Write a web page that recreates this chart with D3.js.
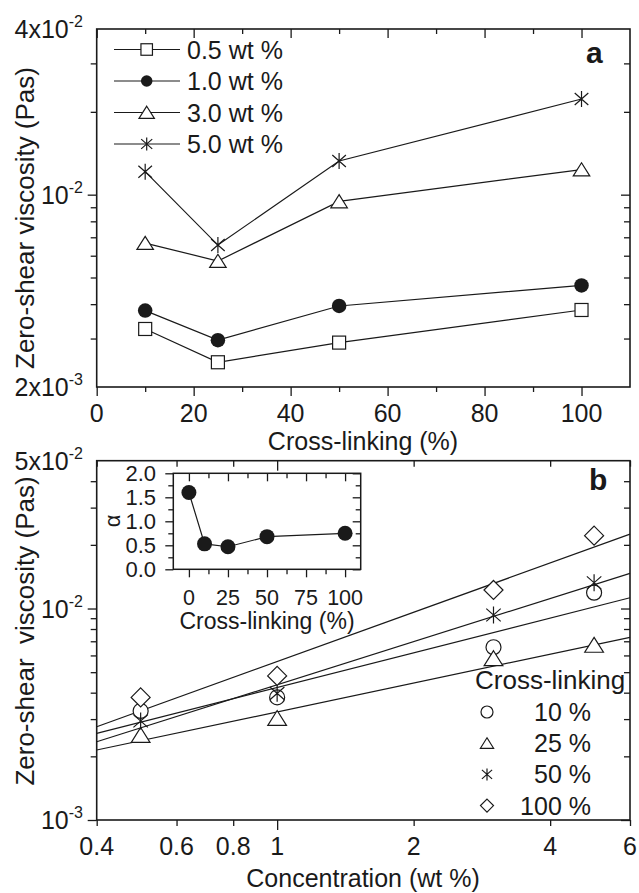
<!DOCTYPE html>
<html>
<head>
<meta charset="utf-8">
<script src="https://cdn.jsdelivr.net/npm/d3@7"></script>
<style>
  html, body { margin: 0; padding: 0; background: #fff; }
  svg { display: block; font-family: "Liberation Sans", Arial, Helvetica, sans-serif; }
</style>
</head>
<body>
<svg id="fig" width="639" height="893"></svg>
<script>
// ---------- data: panel a (viscosity vs. cross-linking) ----------
const crossLinkA = [10, 25, 50, 100];
const concNamesA = ["0.5 wt %", "1.0 wt %", "3.0 wt %", "5.0 wt %"];
const etaC05 = [0.00325, 0.00246, 0.00290, 0.00381];
const etaC10 = [0.00379, 0.00296, 0.00394, 0.00468];
const etaC30 = [0.00667, 0.00574, 0.00945, 0.01234];
const etaC50 = [0.01212, 0.00656, 0.01326, 0.02227];
const xTicksA = [0, 20, 40, 60, 80, 100];
const xMinorA = [10, 30, 50, 70, 90];
const yLabelsA = [2e-3, 1e-2, 4e-2];
const yMinorA = [3e-3, 4e-3, 5e-3, 6e-3, 7e-3, 8e-3, 9e-3, 2e-2, 3e-2];

// ---------- data: panel b (viscosity vs. concentration) ----------
const concB = [0.5, 1, 3, 5];
const xlinkNamesB = ["10 %", "25 %", "50 %", "100 %"];
const etaX10 = [0.00328, 0.00380, 0.00656, 0.01188];
const etaX25 = [0.00252, 0.00303, 0.00581, 0.00672];
const etaX50 = [0.00294, 0.00397, 0.00932, 0.01324];
const etaX100 = [0.00380, 0.00480, 0.01224, 0.02210];
// power-law fits  eta = K * c^alpha  (K = value at 1 wt %)
const fitK = [0.004234, 0.003245, 0.004360, 0.005613];
const fitAlpha = [0.545, 0.453, 0.677, 0.774];
const xTicksB = [0.4, 0.6, 0.8, 1, 2, 4, 6];
const xMajorB = [1];
const yLabelsB = [1e-3, 1e-2, 5e-2];
const yMajorB = [1e-3, 1e-2];
const yMinorB = [2e-3, 3e-3, 4e-3, 5e-3, 6e-3, 7e-3, 8e-3, 9e-3, 2e-2, 3e-2, 4e-2];

// ---------- data: inset (exponent vs. cross-linking) ----------
const insetX = [0, 10, 25, 50, 100];
const insetAlpha = [1.60, 0.53, 0.47, 0.68, 0.75];
const insetXTicks = [0, 25, 50, 75, 100];
const insetXMinor = [12.5, 37.5, 62.5, 87.5];
const insetYTicks = [0, 0.5, 1.0, 1.5, 2.0];
const insetYMinor = [0.25, 0.75, 1.25, 1.75];

// ---------- setup ----------
const ink = "#1a1a1a";
const FS = 25;
const svg = d3.select("#fig");

const A = {left: 96.7, right: 630, top: 29, bottom: 387};
const xA = d3.scaleLinear().domain([0, 110]).range([A.left, A.right]);
const yA = d3.scaleLog().domain([2e-3, 4e-2]).range([A.bottom, A.top]);

const B = {left: 96.7, right: 630, top: 460.7, bottom: 820};
const xB = d3.scaleLog().domain([0.4, 6]).range([B.left, B.right]);
const yB = d3.scaleLog().domain([1e-3, 5e-2]).range([B.bottom, B.top]);

const I = {left: 173.3, right: 360.7, top: 473.3, bottom: 569.3};
const xI = d3.scaleLinear().domain([-10, 110]).range([I.left, I.right]);
const yI = d3.scaleLinear().domain([0, 2]).range([I.bottom, I.top]);

// tick marks through d3 axes (labels drawn separately)
function tickRow(axisFn, scale, values, size, tx, ty, width = 1.3) {
  svg.append("g").attr("transform", `translate(${tx},${ty})`)
    .call(axisFn(scale).tickValues(values).tickSize(size).tickFormat(""))
    .call(g => g.select(".domain").remove())
    .call(g => g.selectAll("text").remove())
    .call(g => g.selectAll("line").attr("stroke", ink).attr("stroke-width", width));
}

function frame(P, w = 1.6) {
  svg.append("rect").attr("x", P.left).attr("y", P.top)
    .attr("width", P.right - P.left).attr("height", P.bottom - P.top)
    .attr("fill", "none").attr("stroke", ink).attr("stroke-width", w);
}

function text(x, y, str, o = {}) {
  return svg.append("text")
    .attr("transform", `translate(${x},${y})` + (o.rotate ? ` rotate(${o.rotate})` : ""))
    .attr("font-size", o.size || FS)
    .attr("font-weight", o.weight || "normal")
    .attr("text-anchor", o.anchor || "start")
    .attr("fill", ink)
    .style("white-space", "pre")
    .text(str);
}

// "4x10^-2" style labels
function sciLabel(x, y, v) {
  const e = Math.floor(Math.log10(v) + 1e-9);
  const m = Math.round(v / Math.pow(10, e));
  const t = svg.append("text").attr("x", x).attr("y", y)
    .attr("text-anchor", "end").attr("font-size", FS).attr("fill", ink);
  t.append("tspan").text(m === 1 ? "10" : m + "x10");
  t.append("tspan").attr("dy", -11).attr("font-size", 16).text(String(e));
}

function marker(g, type, s) {
  const h = s / 2;
  const sw = 1.2;
  if (type === "square") {
    g.append("rect").attr("x", -h).attr("y", -h).attr("width", s).attr("height", s)
      .attr("fill", "#fff").attr("stroke", ink).attr("stroke-width", sw);
  } else if (type === "dot") {
    g.append("circle").attr("r", h).attr("fill", ink);
  } else if (type === "circle") {
    g.append("circle").attr("r", h).attr("fill", "#fff").attr("stroke", ink).attr("stroke-width", sw);
  } else if (type === "triangle") {
    g.append("path").attr("d", `M0,${-h * 0.9}L${h * 1.1},${h * 0.85}L${-h * 1.1},${h * 0.85}Z`)
      .attr("fill", "#fff").attr("stroke", ink).attr("stroke-width", sw);
  } else if (type === "star") {
    const a = h * 0.85, b = h * 0.75;
    g.append("path").attr("d", `M0,${-h}V${h}M${-a},${-b}L${a},${b}M${a},${-b}L${-a},${b}`)
      .attr("fill", "none").attr("stroke", ink).attr("stroke-width", sw);
  } else if (type === "diamond") {
    g.append("path").attr("d", `M0,${-h}L${h},0L0,${h}L${-h},0Z`)
      .attr("fill", "#fff").attr("stroke", ink).attr("stroke-width", sw);
  }
}

// ================= panel a =================
const seriesA = [etaC05, etaC10, etaC30, etaC50];
const symA = ["square", "dot", "triangle", "star"];
const sizeA = {square: 13, dot: 14.5, triangle: 15, star: 16};

tickRow(d3.axisBottom, xA, xTicksA, 9, 0, A.bottom);
tickRow(d3.axisBottom, xA, xMinorA, 5, 0, A.bottom);
tickRow(d3.axisBottom, xA, xTicksA, 9, 0, A.top);
tickRow(d3.axisBottom, xA, xMinorA, 5, 0, A.top);
tickRow(d3.axisLeft, yA, [1e-2], 9, A.left, 0);
tickRow(d3.axisLeft, yA, yMinorA, 6, A.left, 0);
tickRow(d3.axisLeft, yA, [1e-2], 9, A.right, 0);
tickRow(d3.axisLeft, yA, yMinorA, 6, A.right, 0);

const lineA = d3.line().x((d, i) => xA(crossLinkA[i])).y(d => yA(d));
seriesA.forEach(s => {
  svg.append("path").attr("d", lineA(s)).attr("fill", "none").attr("stroke", ink).attr("stroke-width", 1.2);
});
seriesA.forEach((s, k) => {
  s.forEach((v, i) => {
    const g = svg.append("g").attr("transform", `translate(${xA(crossLinkA[i])},${yA(v)})`);
    marker(g, symA[k], sizeA[symA[k]]);
  });
});
frame(A);

// legend a
concNamesA.forEach((name, k) => {
  const yy = 49.5 + k * 31.5;
  svg.append("line").attr("x1", 114).attr("x2", 180).attr("y1", yy).attr("y2", yy)
    .attr("stroke", ink).attr("stroke-width", 1.2);
  const g = svg.append("g").attr("transform", `translate(146.7,${yy})`);
  marker(g, symA[k], symA[k] === "star" ? 13 : (symA[k] === "triangle" ? 14 : 11.5));
  text(187, yy + 9, name);
});

// tick labels a
xTicksA.forEach(v => text(xA(v), 421.5, String(v), {anchor: "middle"}));
yLabelsA.forEach(v => sciLabel(83, yA(v) + 9, v));
text(363, 450, "Cross-linking (%)", {anchor: "middle"});
text(34, 218, "Zero-shear viscosity (Pas)", {anchor: "middle", rotate: -90, size: 26});
text(586, 63, "a", {weight: "bold", size: 30});

// ================= panel b =================
const seriesB = [etaX10, etaX25, etaX50, etaX100];
const symB = ["circle", "triangle", "star", "diamond"];
const sizeB = {circle: 15, triangle: 17, star: 17, diamond: 19};
const xMinorTicksB = xTicksB.filter(v => !xMajorB.includes(v));

tickRow(d3.axisBottom, xB, xMajorB, 10, 0, B.bottom);
tickRow(d3.axisBottom, xB, xMinorTicksB, 6, 0, B.bottom);
tickRow(d3.axisBottom, xB, xMajorB, 10, 0, B.top);
tickRow(d3.axisBottom, xB, xMinorTicksB, 6, 0, B.top);
tickRow(d3.axisLeft, yB, yMajorB, 9, B.left, 0);
tickRow(d3.axisLeft, yB, yMinorB, 6, B.left, 0);
tickRow(d3.axisLeft, yB, yMajorB, 9, B.right, 0);
tickRow(d3.axisLeft, yB, yMinorB, 6, B.right, 0);

// fit lines across the full concentration range
const cRange = xB.domain();
fitK.forEach((K, k) => {
  const f = c => K * Math.pow(c, fitAlpha[k]);
  svg.append("line")
    .attr("x1", xB(cRange[0])).attr("y1", yB(f(cRange[0])))
    .attr("x2", xB(cRange[1])).attr("y2", yB(f(cRange[1])))
    .attr("stroke", ink).attr("stroke-width", 1.2);
});
seriesB.forEach((s, k) => {
  s.forEach((v, i) => {
    const g = svg.append("g").attr("transform", `translate(${xB(concB[i])},${yB(v)})`);
    marker(g, symB[k], sizeB[symB[k]]);
  });
});
frame(B);

// legend b
text(475, 689, "Cross-linking", {size: 26});
xlinkNamesB.forEach((name, k) => {
  const yy = 712 + k * 31.2;
  const g = svg.append("g").attr("transform", `translate(487,${yy})`);
  marker(g, symB[k], symB[k] === "diamond" ? 13 : 12);
  text(591, yy + 9, name, {anchor: "end"});
});

// tick labels b
xTicksB.forEach(v => text(xB(v), 855, String(v), {anchor: "middle"}));
yLabelsB.forEach(v => sciLabel(83, yB(v) + 9, v));
text(363, 887, "Concentration (wt %)", {anchor: "middle"});
text(34, 631, "Zero-shear  viscosity (Pas)", {anchor: "middle", rotate: -90, size: 26});
text(589, 490, "b", {weight: "bold", size: 30});

// ================= inset =================
svg.append("rect").attr("x", I.left).attr("y", I.top)
  .attr("width", I.right - I.left).attr("height", I.bottom - I.top).attr("fill", "#fff");
tickRow(d3.axisBottom, xI, insetXTicks, 8, 0, I.bottom);
tickRow(d3.axisBottom, xI, insetXMinor, 5, 0, I.bottom);
tickRow(d3.axisBottom, xI, insetXTicks, 8, 0, I.top);
tickRow(d3.axisBottom, xI, insetXMinor, 5, 0, I.top);
tickRow(d3.axisLeft, yI, insetYTicks, 8, I.left, 0);
tickRow(d3.axisLeft, yI, insetYMinor, 5, I.left, 0);
tickRow(d3.axisLeft, yI, insetYTicks, 8, I.right, 0);
tickRow(d3.axisLeft, yI, insetYMinor, 5, I.right, 0);

const lineI = d3.line().x((d, i) => xI(insetX[i])).y(d => yI(d));
svg.append("path").attr("d", lineI(insetAlpha)).attr("fill", "none").attr("stroke", ink).attr("stroke-width", 1.2);
insetAlpha.forEach((v, i) => {
  const g = svg.append("g").attr("transform", `translate(${xI(insetX[i])},${yI(v)})`);
  marker(g, "dot", 15);
});
frame(I, 1.5);

insetXTicks.forEach(v => text(xI(v), 605, String(v), {anchor: "middle", size: 21.5}));
insetYTicks.forEach(v => text(156, yI(v) + 8, v.toFixed(1), {anchor: "end", size: 22}));
text(267, 629, "Cross-linking (%)", {anchor: "middle", size: 23});
text(120, 521, "α", {anchor: "middle", rotate: -90, size: 22});
</script>
</body>
</html>
